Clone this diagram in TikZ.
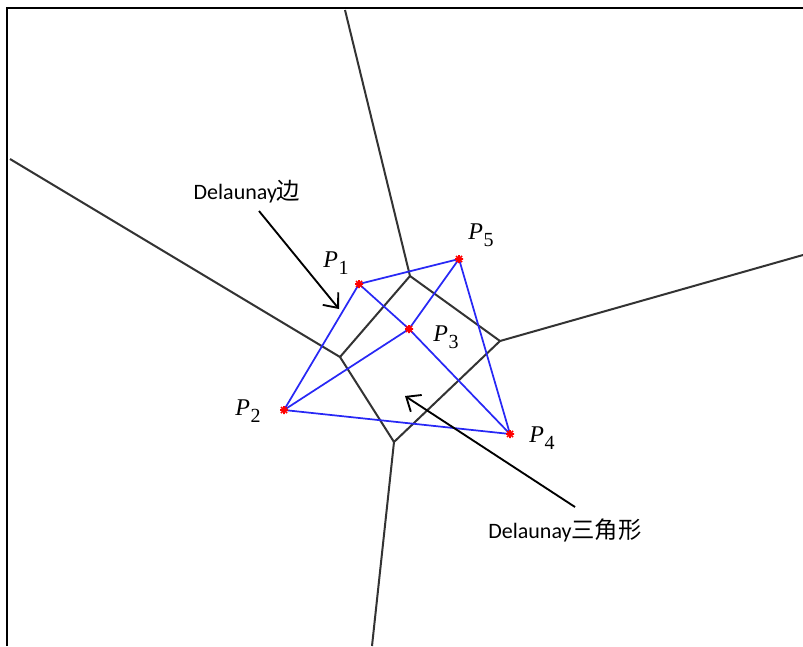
\documentclass[tikz,border=0pt]{standalone}
\usepackage{fontspec}
\setmainfont{Liberation Serif}
\newfontfamily\labfont{Carlito}
\newfontfamily\cjkfont{Noto Sans CJK SC}
\usetikzlibrary{arrows.meta,calc}
\definecolor{delblue}{RGB}{40,40,245}
\tikzset{
  vor/.style={draw=black!80, line width=1.5pt},
  del/.style={draw=delblue, line width=1.3pt},
  frameline/.style={draw=black, line width=0.9pt},
  callout/.style={draw=black, line width=1.4pt, -{Straight Barb[length=9pt,width=15pt,line width=1.4pt]}},
  plabel/.style={inner sep=0pt, font=\fontsize{18}{20}\selectfont},
  txtlabel/.style={inner sep=0pt},
  site/.style={draw=red, line width=1.2pt}
}
\newcommand{\Psub}[1]{\textit{P}\kern0.5pt\raisebox{-5pt}{\fontsize{15}{17}\selectfont #1}}
\begin{document}
\begin{tikzpicture}[x=0.75pt,y=-0.75pt]
\useasboundingbox (0,0) rectangle (803,646);
% frame
\coordinate (FB) at (7,646);
\coordinate (FTL) at (7,8);
\coordinate (FTR) at (803,8);
\draw[frameline] (FB) -- (FTL) -- (FTR);
% Voronoi vertices
\coordinate (V1) at (410,276);
\coordinate (V2) at (340,357);
\coordinate (V3) at (500,341);
\coordinate (V4) at (394,442);
\coordinate (ET) at (345,10);
\coordinate (EL) at (10,159);
\coordinate (ER) at (803,255);
\coordinate (EB) at (372,646);
\draw[vor] (ET) -- (V1) -- (V3) -- (ER);
\draw[vor] (EL) -- (V2) -- (V1);
\draw[vor] (V2) -- (V4) -- (V3);
\draw[vor] (V4) -- (EB);
% Delaunay sites
\coordinate (P1) at (359,284);
\coordinate (P2) at (284,410);
\coordinate (P3) at (409,329);
\coordinate (P4) at (510,434);
\coordinate (P5) at (459,259);
\draw[del] (P1) -- (P5) -- (P4) -- (P2) -- cycle;
\draw[del] (P1) -- (P3) -- (P4);
\draw[del] (P2) -- (P3) -- (P5);
\foreach \p in {P1,P2,P3,P4,P5}{
  \draw[site] ($(\p)+(-4,0)$) -- ($(\p)+(4,0)$)
              ($(\p)+(0,-4)$) -- ($(\p)+(0,4)$)
              ($(\p)+(-3,-3)$) -- ($(\p)+(3,3)$)
              ($(\p)+(-3,3)$) -- ($(\p)+(3,-3)$);
}
% point labels
\node[plabel] (L1) at (336,263) {\Psub{1}};
\node[plabel] (L2) at (248,411) {\Psub{2}};
\node[plabel] (L3) at (446,337) {\Psub{3}};
\node[plabel] (L4) at (542,438) {\Psub{4}};
\node[plabel] (L5) at (481,235) {\Psub{5}};
% text labels
\node[txtlabel] (T1) at (247,192) {\fontsize{16.5}{18}\selectfont\labfont Delaunay\cjkfont\fontsize{17.5}{18}\selectfont 边};
\node[txtlabel] (T2) at (565,530) {\fontsize{16.5}{18}\selectfont\labfont Delaunay\cjkfont\fontsize{17.5}{18}\selectfont 三角形};
\coordinate (A1s) at (259,211);
\coordinate (A1e) at (339,309);
\coordinate (A2s) at (575,507);
\coordinate (A2e) at (405,396);
\draw[callout] (A1s) -- (A1e);
\draw[callout] (A2s) -- (A2e);
\end{tikzpicture}
\end{document}
